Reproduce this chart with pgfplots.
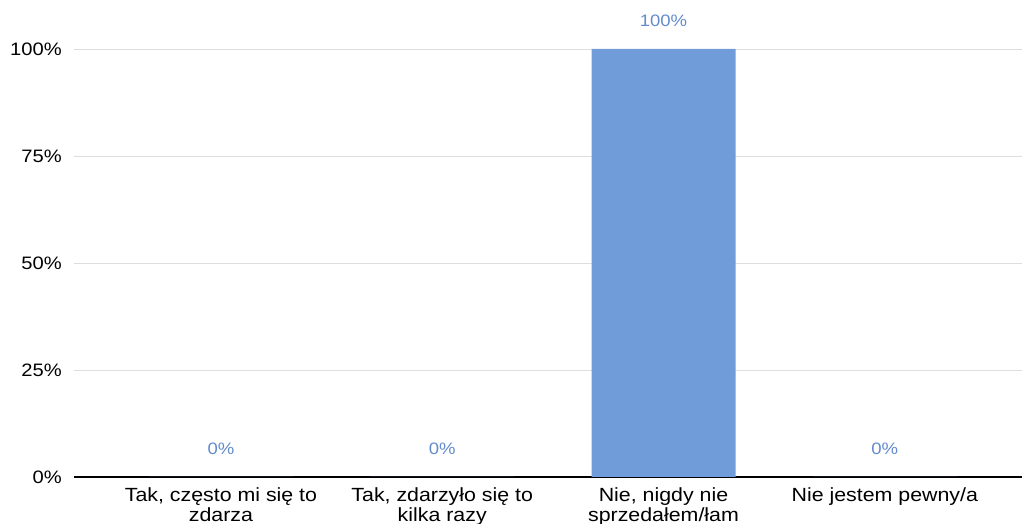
\documentclass[border=0pt]{standalone}
\usepackage{fontspec}
\setmainfont{Liberation Sans}[FakeStretch=1.12]
\usepackage{pgfplots}
\pgfplotsset{compat=1.18}
\definecolor{barblue}{RGB}{112,157,218}
\definecolor{lblblue}{RGB}{98,138,204}
\definecolor{gridgray}{RGB}{222,222,222}
\begin{document}
\begin{tikzpicture}
\begin{axis}[
  at={(0,0)}, anchor=south west,
  scale only axis,
  width=711pt, height=321pt,
  xmin=-0.664, xmax=3.62,
  ymin=0, ymax=100,
  clip=false,
  /pgf/number format/assume math mode=true,
  axis x line*=bottom, axis y line*=left,
  x axis line style={black, line width=1.1pt, -},
  y axis line style={draw=none},
  major tick length=0pt,
  xtick={0,1,2,3},
  xticklabels={{Tak, często mi się to\\zdarza},{Tak, zdarzyło się to\\kilka razy},{Nie, nigdy nie\\sprzedałem/łam},{Nie jestem pewny/a}},
  xticklabel style={align=center, anchor=north, inner sep=0pt, yshift=-8pt,
    font=\fontsize{14.3}{14.6}\selectfont},
  ytick={0,25,50,75,100},
  yticklabels={0\%,25\%,50\%,75\%,100\%},
  yticklabel style={anchor=east, inner sep=0pt, xshift=-9pt,
    font=\fontsize{13.5}{15}\selectfont},
  ymajorgrids,
  major grid style={gridgray, line width=0.6pt},
]
\addplot[ybar, fill=barblue, draw=none, bar width=108pt,
  nodes near coords={\pgfmathprintnumber{\pgfplotspointmeta}\%},
  nodes near coords style={anchor=base, inner sep=0pt, yshift=16.5pt,
    text=lblblue, font=\fontsize{12.4}{14}\selectfont}]
  coordinates {(0,0) (1,0) (2,100) (3,0)};
\end{axis}
\pgfresetboundingbox
\path[use as bounding box] (-55.5pt,-35.25pt) rectangle (711pt,357.75pt);
\end{tikzpicture}
\end{document}
